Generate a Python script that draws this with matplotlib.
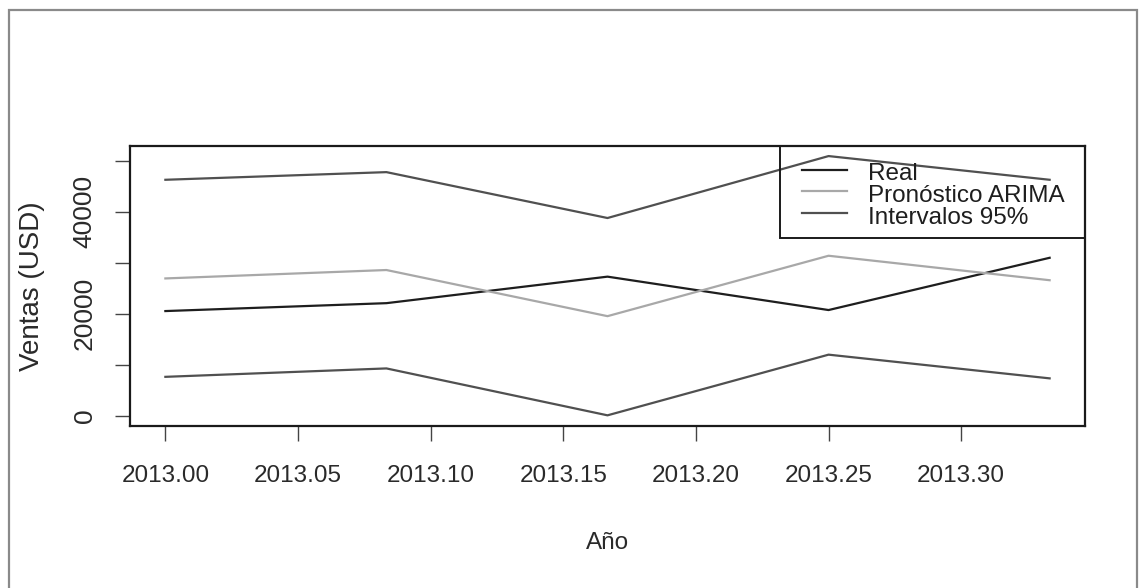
import numpy as np
import matplotlib
matplotlib.use("Agg")
import matplotlib.pyplot as plt
from matplotlib.patches import Rectangle
from matplotlib.lines import Line2D

# monthly sales, first five months of 2013
meses = 2013 + np.arange(5) / 12.0
real = [20550, 22100, 27300, 20750, 31000]
pronostico = [26950, 28600, 19550, 31400, 26600]
limite_sup = [46300, 47800, 38800, 50950, 46300]
limite_inf = [7650, 9300, 100, 12000, 7350]

x_ticks = [2013.00, 2013.05, 2013.10, 2013.15, 2013.20, 2013.25, 2013.30]
y_ticks = [0, 10000, 20000, 30000, 40000, 50000]
y_labels = ["0", "", "20000", "", "40000", ""]

leyenda = ["Real", "Pronóstico ARIMA", "Intervalos 95%"]
colores = ["#1e1e1e", "#a8a8a8", "#505050"]

fuente = ["Liberation Sans", "DejaVu Sans"]
gris_txt = "#2a2a2a"

fig = plt.figure(figsize=(11.39, 5.88), dpi=100)
ax = fig.add_axes([130 / 1139, 1 - 425.7 / 588, 955 / 1139, 280 / 588])

ax.plot(meses, real, color=colores[0], lw=1.6)
ax.plot(meses, pronostico, color=colores[1], lw=1.6)
ax.plot(meses, limite_sup, color=colores[2], lw=1.6)
ax.plot(meses, limite_inf, color=colores[2], lw=1.6)

# R style axis ranges: data range plus 4% each side
todos = np.concatenate([real, pronostico, limite_sup, limite_inf])
ymin, ymax = todos.min(), todos.max()
dy = 0.04 * (ymax - ymin)
ax.set_ylim(ymin - dy, ymax + dy)
dx = 0.04 * (meses[-1] - meses[0])
ax.set_xlim(meses[0] - dx, meses[-1] + dx)

ax.set_xticks(x_ticks)
ax.set_xticklabels(["%.2f" % t for t in x_ticks], family=fuente, fontsize=17.5,
                   color=gris_txt)
ax.set_yticks(y_ticks)
ax.set_yticklabels(y_labels, family=fuente, fontsize=19, color=gris_txt,
                   rotation=90, va="center")

ax.tick_params(axis="x", length=11, width=1, color="#444444", pad=17)
ax.tick_params(axis="y", length=11, width=1, color="#444444", pad=13)

for s in ax.spines.values():
    s.set_linewidth(1.6)
    s.set_color("#1a1a1a")

ax.set_xlabel("Año", family=fuente, fontsize=17.5, color=gris_txt, va="center")
ax.xaxis.set_label_coords(0.5, -0.418)
ax.set_ylabel("Ventas (USD)", family=fuente, fontsize=20, color=gris_txt,
              va="center")
ax.yaxis.set_label_coords(-0.1026, 0.5)

# legend box drawn by hand, top right corner of the plot region
ax.add_patch(Rectangle((0.6806, 0.6714), 1.0 - 0.6806, 1.0 - 0.6714,
                       transform=ax.transAxes, facecolor="none",
                       edgecolor="#1a1a1a", lw=1.4, zorder=3, clip_on=False))
linea_y = [0.9146, 0.8375, 0.7600]
texto_y = [0.8775, 0.7990, 0.7200]
for txt, col, ly, ty in zip(leyenda, colores, linea_y, texto_y):
    ax.add_line(Line2D([0.7038, 0.7513], [ly, ly], transform=ax.transAxes,
                       color=col, lw=1.6, zorder=4))
    ax.text(0.7728, ty, txt, transform=ax.transAxes, family=fuente,
            fontsize=17.5, color="#1e1e1e", va="baseline", ha="left", zorder=4)

# outer frame around the whole graphic
fig.add_artist(Rectangle((9 / 1139, -0.02), 1128 / 1139, 1.02 - 10 / 588,
                         transform=fig.transFigure, fill=False,
                         edgecolor="#8a8a8a", lw=1.6))

fig.savefig("out.png", dpi=100)
